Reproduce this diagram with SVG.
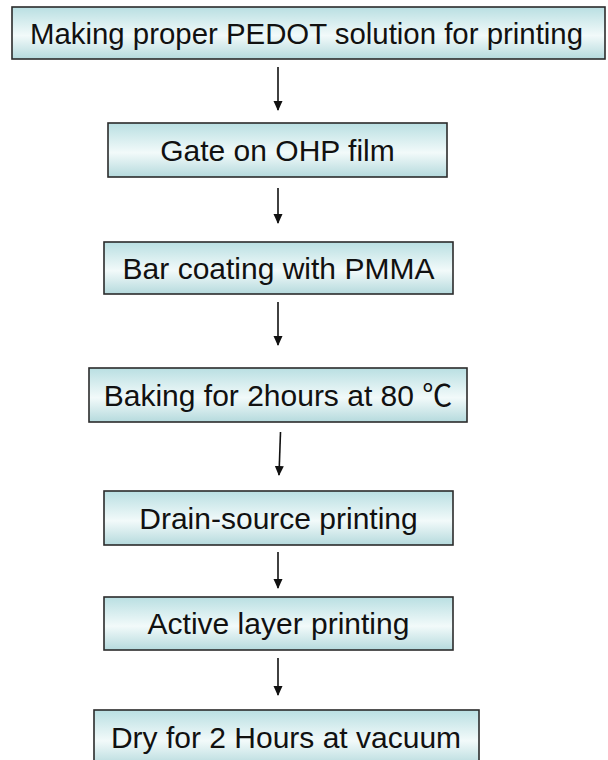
<svg xmlns="http://www.w3.org/2000/svg" width="608" height="760" viewBox="0 0 608 760">
<style>
.box{fill:url(#g);stroke:#2b2b2b;stroke-width:1.6}
.lbl{font-family:"Liberation Sans","Noto Sans CJK KR",Arial,sans-serif;font-size:30px;fill:#111;text-anchor:middle}
.conn line{stroke:#111;stroke-width:1.6}
</style>
<defs>
<linearGradient id="g" x1="0" y1="0" x2="0" y2="1">
<stop offset="0" stop-color="#b9dfe2"/>
<stop offset="0.55" stop-color="#f2fafa"/>
<stop offset="1" stop-color="#b5dadd"/>
</linearGradient>
<marker id="ah" markerWidth="10" markerHeight="10" refX="9" refY="5" orient="auto" markerUnits="userSpaceOnUse">
<path d="M0,0.5 L10,5 L0,9.5 Z" fill="#111"/>
</marker>
</defs>
<rect width="608" height="760" fill="#fff"/>
<g id="connectors" class="conn">
<line x1="278" y1="67" x2="278" y2="110" marker-end="url(#ah)"/>
<line x1="278" y1="188" x2="278" y2="223" marker-end="url(#ah)"/>
<line x1="278" y1="302" x2="278" y2="345" marker-end="url(#ah)"/>
<line x1="280.5" y1="432" x2="279" y2="475" marker-end="url(#ah)"/>
<line x1="278" y1="552" x2="278" y2="588" marker-end="url(#ah)"/>
<line x1="278" y1="658" x2="278" y2="695" marker-end="url(#ah)"/>
</g>
<g id="n1"><rect class="box" x="12" y="7" width="593" height="52"/><text class="lbl" x="306.5" y="44" textLength="553" lengthAdjust="spacingAndGlyphs">Making proper PEDOT solution for printing</text></g>
<g id="n2"><rect class="box" x="108" y="123" width="339" height="54"/><text class="lbl" x="277.5" y="161">Gate on OHP film</text></g>
<g id="n3"><rect class="box" x="104" y="242" width="349" height="52"/><text class="lbl" x="278.5" y="279">Bar coating with PMMA</text></g>
<g id="n4"><rect class="box" x="89" y="368" width="378" height="54"/><text class="lbl" x="278" y="406">Baking for 2hours at 80 ℃</text></g>
<g id="n5"><rect class="box" x="104" y="491" width="349" height="54"/><text class="lbl" x="278.5" y="529">Drain-source printing</text></g>
<g id="n6"><rect class="box" x="104" y="597" width="349" height="53"/><text class="lbl" x="278.5" y="634">Active layer printing</text></g>
<g id="n7"><rect class="box" x="94" y="710" width="385" height="56"/><text class="lbl" x="286" y="748">Dry for 2 Hours at vacuum</text></g>
</svg>
